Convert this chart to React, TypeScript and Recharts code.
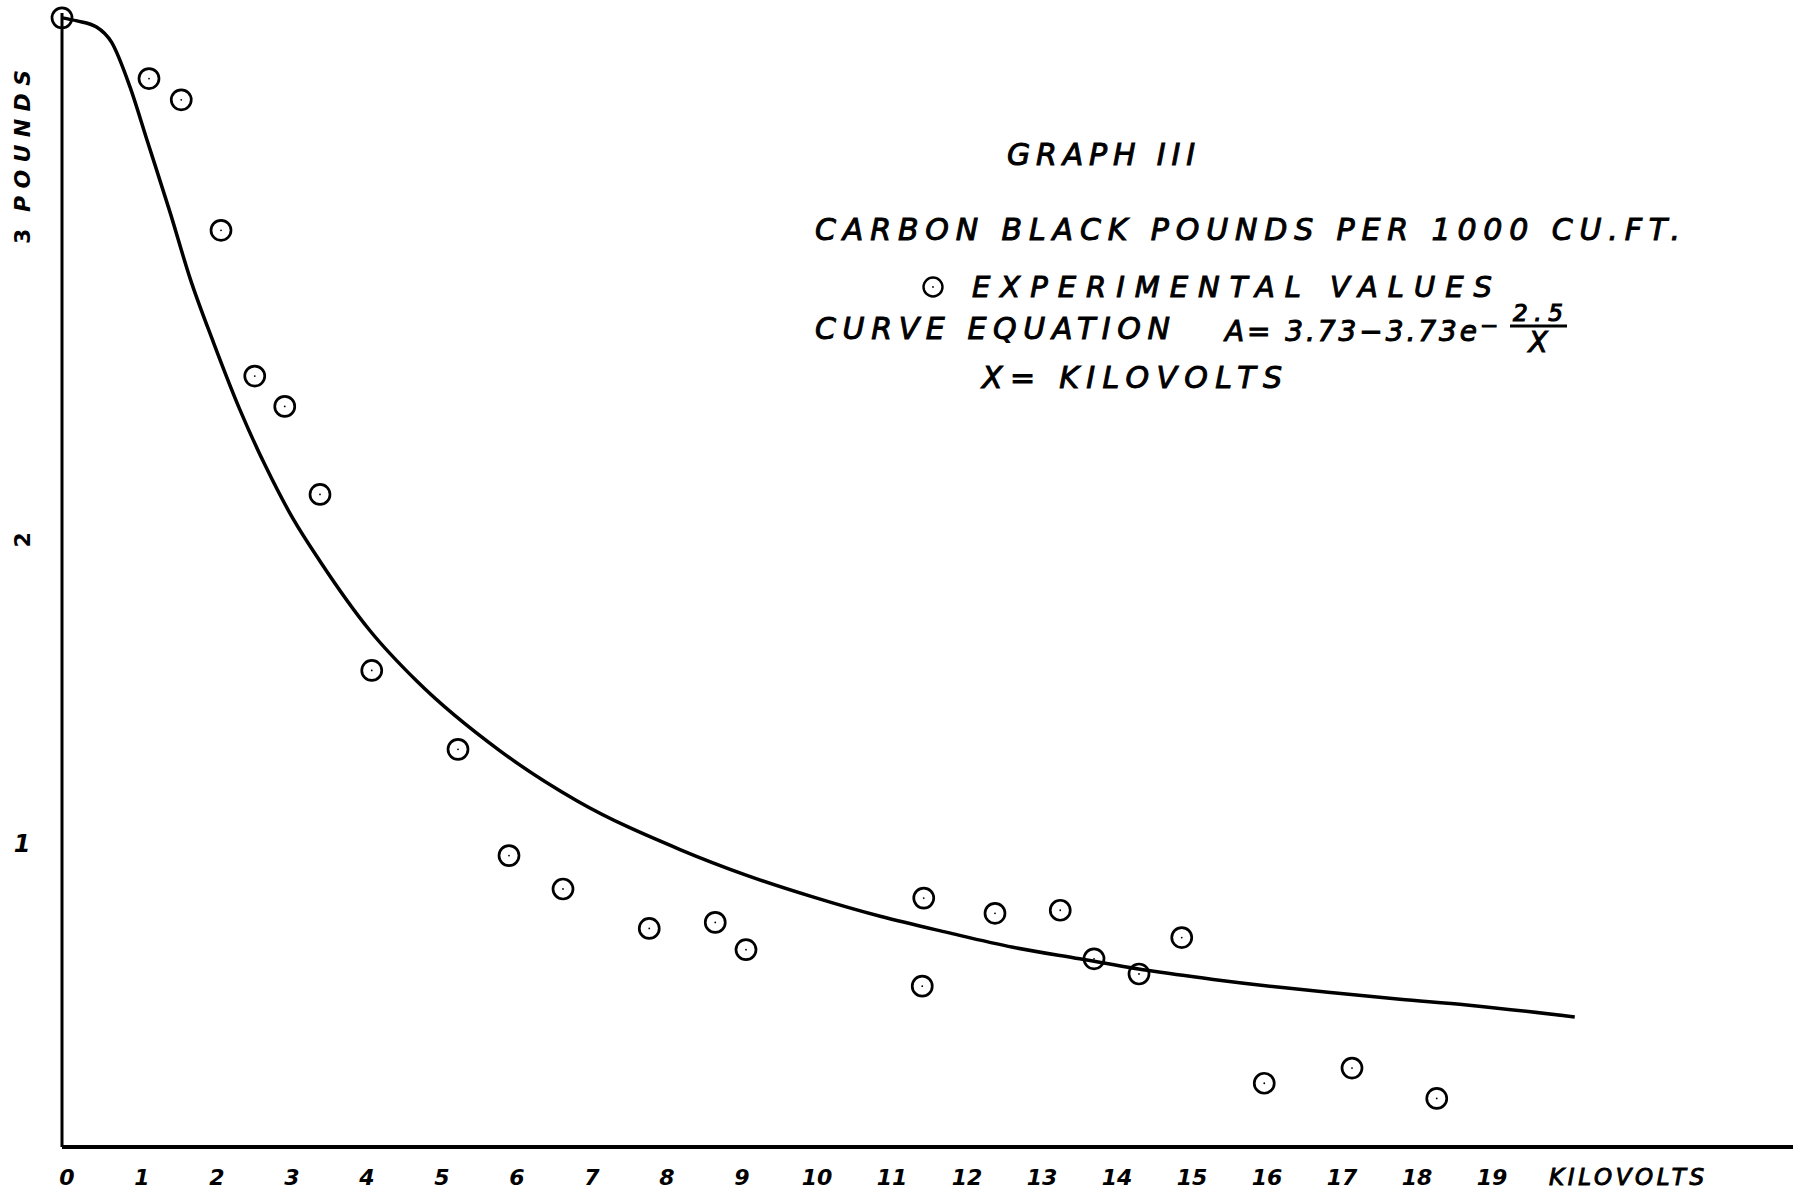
import React from 'react';
import { ComposedChart, Line, Scatter, XAxis, YAxis } from 'recharts';

const W = 1793;
const H = 1191;

// Tick labels
const xTicks = [0, 1, 2, 3, 4, 5, 6, 7, 8, 9, 10, 11, 12, 13, 14, 15, 16, 17, 18, 19];
const yTicks = [1, 2, 3];

// Experimental values (kilovolts, pounds per 1000 cu.ft.)
const experimentalX = [0, 1.16, 1.59, 2.12, 2.57, 2.97, 3.44, 4.13, 5.28, 5.96, 6.68, 7.83, 8.71, 9.12, 11.49, 11.47, 12.44, 13.31, 13.76, 14.36, 14.93, 16.03, 17.2, 18.33];
const experimentalY = [3.72, 3.52, 3.45, 3.02, 2.54, 2.44, 2.15, 1.57, 1.31, 0.96, 0.85, 0.72, 0.74, 0.65, 0.82, 0.53, 0.77, 0.78, 0.62, 0.57, 0.69, 0.21, 0.26, 0.16];

// Drawn curve
const curveX = [0, 0.2, 0.46, 0.66, 0.91, 1.13, 1.44, 1.71, 2.02, 2.37, 2.72, 3.08, 3.44, 4.11, 4.73, 5.84, 6.87, 8.24, 9.13, 10.01, 10.91, 11.8, 12.68, 13.57, 14.47, 15.35, 16.24, 16.95, 17.84, 18.73, 20.17];
const curveY = [3.72, 3.71, 3.69, 3.64, 3.49, 3.32, 3.08, 2.86, 2.65, 2.43, 2.24, 2.07, 1.93, 1.70, 1.535, 1.305, 1.14, 0.98, 0.895, 0.824, 0.76, 0.707, 0.658, 0.62, 0.582, 0.552, 0.526, 0.508, 0.487, 0.468, 0.428];

const experimental = experimentalX.map((x, i) => ({ x, y: experimentalY[i] }));
const curve = curveX.map((x, i) => ({ x, y: curveY[i] }));

const FONT = "'DejaVu Sans', 'Liberation Sans', sans-serif";

const Ring = (props: any) => {
  const { cx, cy } = props;
  if (cx == null || cy == null) return <g />;
  return (
    <g>
      <circle cx={cx} cy={cy} r={10} fill="none" stroke="#000" strokeWidth={2.7} />
      <circle cx={cx} cy={cy} r={0.9} fill="#000" />
    </g>
  );
};

const XTick = (props: any) => {
  const { x, payload } = props;
  return (
    <text
      x={x + 5}
      y={1185}
      textAnchor="middle"
      fontFamily={FONT}
      fontStyle="italic"
      fontWeight="bold"
      fontSize={22}
      fill="#000"
    >
      {payload.value}
    </text>
  );
};

const YTick = (props: any) => {
  const { y, payload } = props;
  const cx = 22;
  if (payload.value === 1) {
    return (
      <text x={cx} y={y} dy="0.36em" textAnchor="middle" fontFamily={FONT} fontStyle="italic" fontWeight="bold" fontSize={24} fill="#000">
        {payload.value}
      </text>
    );
  }
  return (
    <text
      x={cx}
      y={y}
      dy="0.36em"
      transform={`rotate(-90 ${cx} ${y})`}
      textAnchor="middle"
      fontFamily={FONT}
      fontWeight="bold"
      fontSize={22}
      fill="#000"
    >
      {payload.value}
    </text>
  );
};

const T = (p: any) => (
  <text
    x={p.x}
    y={p.y}
    textAnchor={p.anchor || 'start'}
    textLength={p.len}
    lengthAdjust="spacing"
    fontFamily={FONT}
    fontStyle="italic"
    fontSize={p.size || 30}
    fill="#000"
    stroke="#000"
    strokeWidth={p.sw ?? 1}
  >
    {p.children}
  </text>
);

export default function App() {
  return (
    <div style={{ position: 'absolute', left: 0, top: 0, width: W, height: H, background: '#fff', overflow: 'hidden' }}>
      <ComposedChart width={W} height={H} margin={{ top: 13, right: 0, bottom: 0, left: 0 }}>
        <XAxis
          type="number"
          dataKey="x"
          domain={[0, 23.08]}
          ticks={xTicks}
          interval={0}
          height={44}
          tickLine={false}
          axisLine={{ stroke: '#000', strokeWidth: 4 }}
          tick={(p: any) => <XTick {...p} />}
        />
        <YAxis
          type="number"
          dataKey="y"
          domain={[0, 3.736]}
          ticks={yTicks}
          interval={0}
          width={62}
          tickLine={false}
          axisLine={{ stroke: '#000', strokeWidth: 3 }}
          tick={(p: any) => <YTick {...p} />}
        />
        <Line
          data={curve}
          dataKey="y"
          type="monotone"
          dot={false}
          activeDot={false}
          stroke="#000"
          strokeWidth={3.5}
          isAnimationActive={false}
        />
        <Scatter data={experimental} dataKey="y" shape={(p: any) => <Ring {...p} />} isAnimationActive={false} />
      </ComposedChart>
      <svg style={{ position: 'absolute', left: 0, top: 0, pointerEvents: 'none' }} width={W} height={H}>
        <text
          x={22}
          y={141}
          dy="0.36em"
          transform="rotate(-90 22 141)"
          textAnchor="middle"
          textLength={142}
          lengthAdjust="spacing"
          fontFamily={FONT}
          fontStyle="italic"
          fontWeight="bold"
          fontSize={22}
          fill="#000"
        >
          POUNDS
        </text>
        <T x={1007} y={165} len={188}>GRAPH III</T>
        <T x={815} y={240} len={865}>CARBON BLACK POUNDS PER 1000 CU.FT.</T>
        <circle cx={933} cy={287} r={9.5} fill="none" stroke="#000" strokeWidth={2.4} />
        <circle cx={933} cy={287} r={0.9} fill="#000" />
        <T x={972} y={297} len={520} size={29}>EXPERIMENTAL VALUES</T>
        <T x={815} y={339} len={355}>CURVE EQUATION</T>
        <T x={1225} y={341} len={252} size={28}>A= 3.73−3.73e</T>
        <T x={1480} y={333} len={17} size={22}>−</T>
        <T x={1538} y={321} anchor="middle" size={23} len={50} sw={1.2}>2.5</T>
        <line x1={1510} y1={326} x2={1567} y2={326} stroke="#000" strokeWidth={2.8} />
        <T x={1538} y={352} anchor="middle" size={28}>X</T>
        <T x={982} y={388} len={300}>X= KILOVOLTS</T>
        <T x={1549} y={1185} len={155} size={23}>KILOVOLTS</T>
      </svg>
    </div>
  );
}
